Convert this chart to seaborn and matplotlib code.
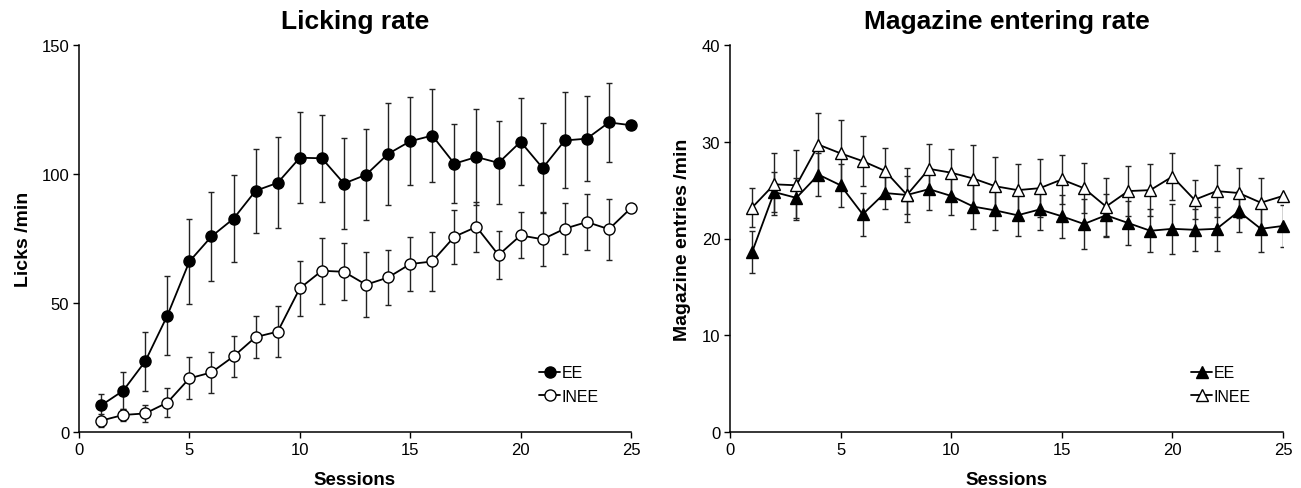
import numpy as np
import pandas as pd
import seaborn as sns
import matplotlib
matplotlib.use("Agg")
import matplotlib.pyplot as plt

sessions = list(range(1, 26))

# licking rate (licks/min)
lick_ee = [10.3, 16.0, 27.4, 45.1, 66.1, 75.8, 82.7, 93.5, 96.6, 106.3, 106.1, 96.3, 99.7,
           107.8, 112.7, 114.9, 104.0, 106.6, 104.3, 112.5, 102.3, 113.0, 113.7, 120.0, 118.9]
lick_ee_err = [4.3, 7.1, 11.4, 15.2, 16.4, 17.1, 16.9, 16.3, 17.6, 17.6, 16.9, 17.7, 17.7,
               19.8, 17.1, 18.0, 15.2, 18.6, 16.1, 16.8, 17.4, 18.6, 16.5, 15.2, 0.0]
lick_inee = [4.4, 6.6, 7.2, 11.4, 20.8, 23.1, 29.3, 36.8, 38.9, 55.7, 62.5, 62.1, 57.1,
             59.9, 65.1, 66.1, 75.7, 79.5, 68.6, 76.2, 74.7, 78.8, 81.4, 78.6, 86.8]
lick_inee_err = [2.5, 2.5, 3.4, 5.6, 8.1, 8.1, 7.8, 8.0, 9.8, 10.6, 12.8, 11.0, 12.5,
                 10.7, 10.6, 11.6, 10.5, 9.6, 9.4, 8.9, 10.5, 10.0, 10.7, 11.8, 0.0]

# magazine entering rate (entries/min)
mag_ee = [18.6, 24.8, 24.2, 26.6, 25.5, 22.5, 24.7, 24.5, 25.1, 24.4, 23.3, 22.9, 22.4,
          23.0, 22.3, 21.5, 22.4, 21.6, 20.8, 21.0, 20.9, 21.0, 22.8, 21.0, 21.3]
mag_ee_err = [2.2, 2.1, 2.1, 2.2, 2.2, 2.2, 1.7, 2.0, 2.2, 2.0, 2.3, 2.0, 2.1,
              2.1, 2.2, 2.6, 2.2, 2.3, 2.2, 2.6, 2.2, 2.3, 2.1, 2.4, 2.2]
mag_inee = [23.2, 25.6, 25.5, 29.7, 28.8, 28.0, 27.0, 24.5, 27.2, 26.8, 26.2, 25.4, 25.0,
            25.2, 26.1, 25.2, 23.3, 24.9, 25.0, 26.4, 24.0, 24.9, 24.7, 23.7, 24.4]
mag_inee_err = [2.0, 3.2, 3.6, 3.3, 3.4, 2.6, 2.4, 2.8, 2.6, 2.5, 3.5, 3.0, 2.7,
                3.0, 2.5, 2.6, 3.0, 2.6, 2.7, 2.4, 2.0, 2.7, 2.6, 2.6, 0.0]

sns.set_style("ticks")
plt.rcParams["font.family"] = ["Liberation Sans", "DejaVu Sans"]
plt.rcParams["text.color"] = "black"
plt.rcParams["axes.labelcolor"] = "black"
plt.rcParams["xtick.color"] = "black"
plt.rcParams["ytick.color"] = "black"

W, H = 1301, 489
fig = plt.figure(figsize=(W / 100, H / 100), dpi=100)
ax1 = fig.add_axes([79 / W, (H - 433) / H, 552 / W, 387 / H])
ax2 = fig.add_axes([730 / W, (H - 433) / H, 553 / W, 387 / H])


def draw(ax, mean_ee, err_ee, mean_inee, err_inee, marker, ms):
    df = pd.DataFrame({"session": sessions * 2,
                       "value": mean_ee + mean_inee,
                       "group": ["EE"] * 25 + ["INEE"] * 25})
    for grp, err, face in [("EE", err_ee, "black"), ("INEE", err_inee, "white")]:
        d = df[df["group"] == grp]
        e = np.array(err, dtype=float)
        keep = e > 0
        ax.errorbar(d["session"].values[keep], d["value"].values[keep], yerr=e[keep],
                    fmt="none", ecolor="#222222", elinewidth=1.0, capsize=2.5,
                    capthick=1.0, zorder=1)
        sns.lineplot(data=d, x="session", y="value", ax=ax, color="black",
                     linewidth=1.3, marker=marker, markersize=ms,
                     markerfacecolor=face, markeredgecolor="black",
                     markeredgewidth=1.0, label=grp, zorder=3, clip_on=False)
    ax.set_xlim(0, 25)
    ax.set_xticks([0, 5, 10, 15, 20, 25])
    ax.tick_params(axis="both", labelsize=12, length=4, width=1, color="black",
                   labelcolor="black", pad=3)
    for s in ["left", "bottom"]:
        ax.spines[s].set_linewidth(1.1)
        ax.spines[s].set_color("black")
    sns.despine(ax=ax)
    ax.set_xlabel("Sessions", fontsize=13.5, fontweight="bold", labelpad=10)
    ax.legend(loc="lower right", bbox_to_anchor=(0.968, 0.035), frameon=False,
              fontsize=11.5, handlelength=1.3, handletextpad=0.1,
              labelspacing=0.55, borderpad=0.4)


draw(ax1, lick_ee, lick_ee_err, lick_inee, lick_inee_err, "o", 8)
ax1.set_ylim(0, 150)
ax1.set_yticks([0, 50, 100, 150])
ax1.set_ylabel("Licks /min", fontsize=14, fontweight="bold", labelpad=7)
ax1.set_title("Licking rate", fontsize=19, fontweight="bold", pad=12)

draw(ax2, mag_ee, mag_ee_err, mag_inee, mag_inee_err, "^", 8.5)
ax2.set_ylim(0, 40)
ax2.set_yticks([0, 10, 20, 30, 40])
ax2.set_ylabel("Magazine entries /min", fontsize=14, fontweight="bold", labelpad=8)
ax2.set_title("Magazine entering rate", fontsize=19, fontweight="bold", pad=12)

fig.savefig("out.png", dpi=100)
